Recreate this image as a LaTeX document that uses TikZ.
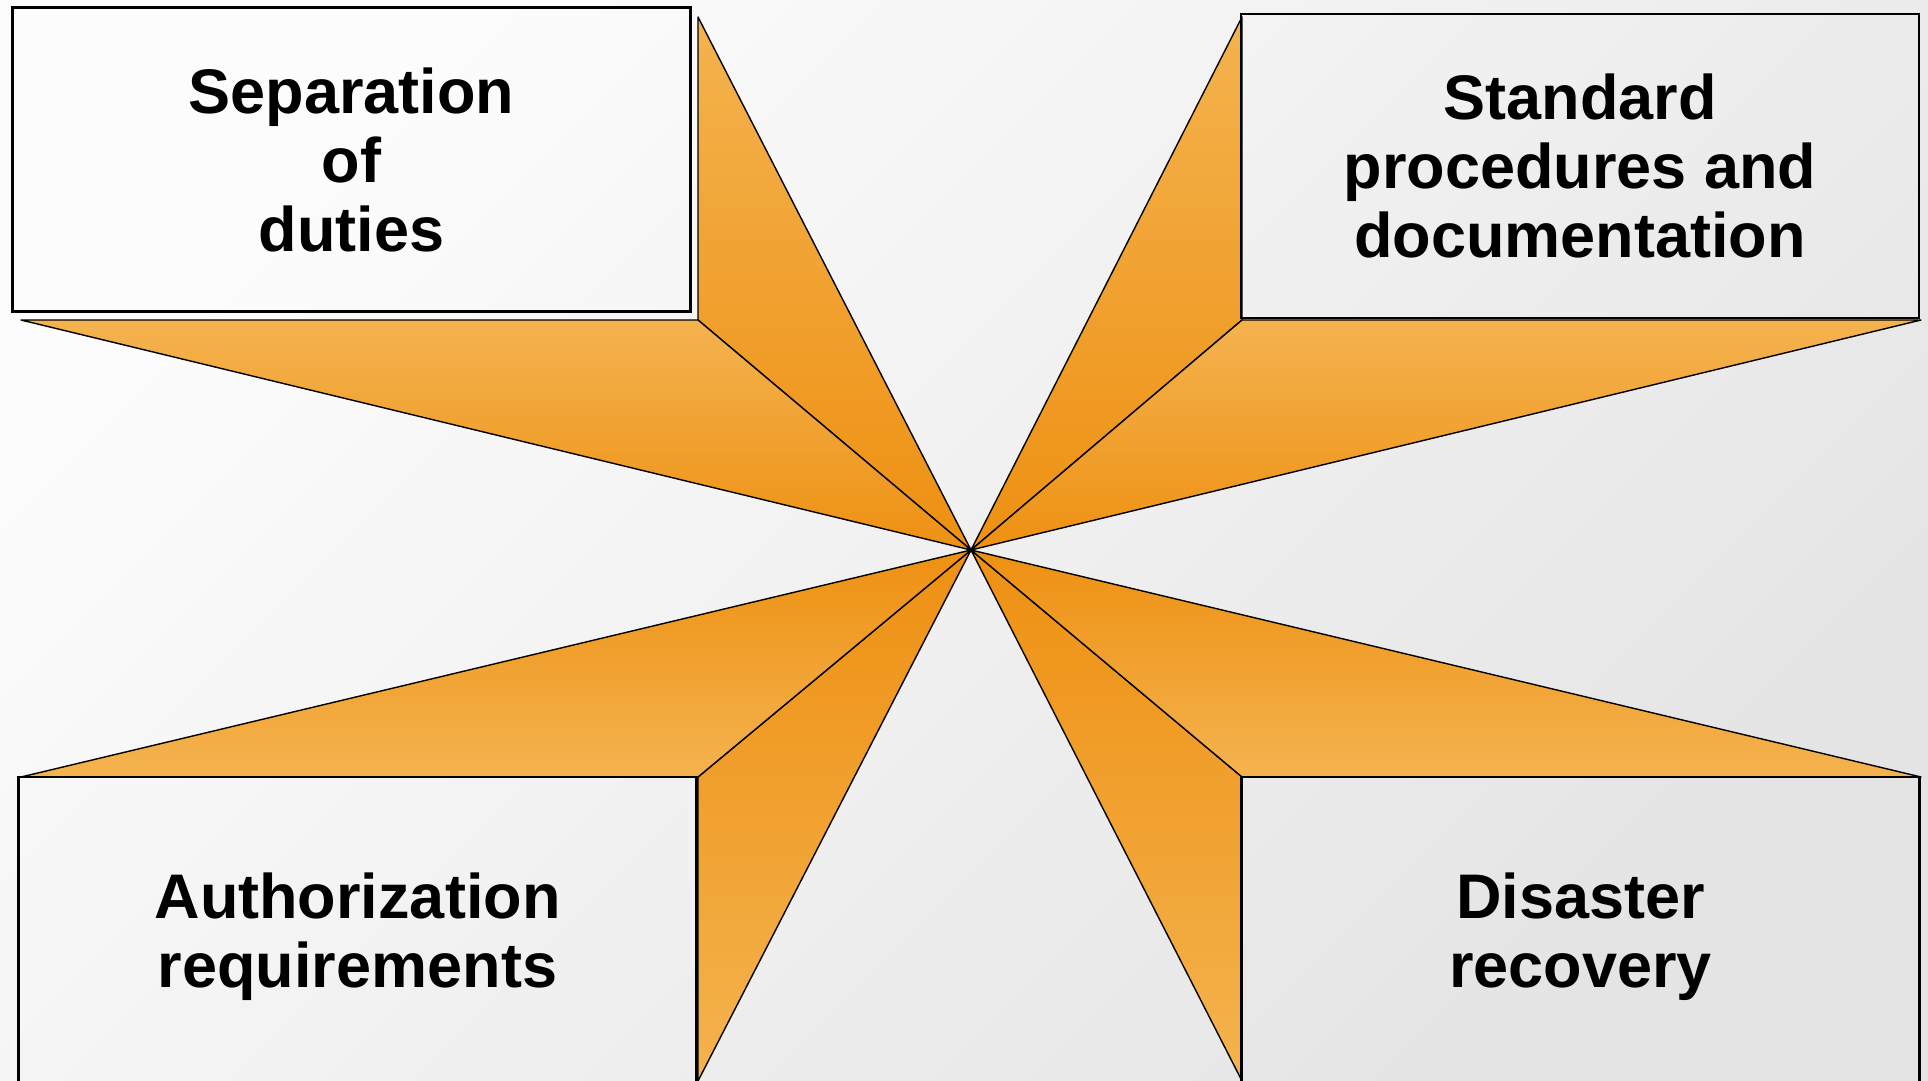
\documentclass[tikz,border=0pt]{standalone}
\usepackage{fontspec}
\setmainfont{Liberation Sans}
\definecolor{raylight}{HTML}{F4B34F}
\definecolor{raydark}{HTML}{EE9012}
\tikzset{
  card/.style={draw=black,line width=1.1pt,minimum width=339pt,minimum height=152pt,align=center,
    font=\fontsize{31.5}{34.5}\selectfont\bfseries},
  ray/.style={draw=black,line width=.7pt,line join=round},
  rayup/.style={ray,top color=raylight,bottom color=raydark},
  raydown/.style={ray,top color=raydark,bottom color=raylight},
}
\begin{document}
\begin{tikzpicture}[x=.5pt,y=-.5pt]
  \useasboundingbox (0,0) rectangle (1928,1081);
  \clip (0,0) rectangle (1928,1081);
  % diagonal fade, light corner top left (angle has to follow the colours)
  \shade[top color=white!99!black,bottom color=white!89.5!black,shading angle=45] (0,0) rectangle (1928,1081);
  % star points, all meeting in O
  \coordinate (O) at (971,550);
  \coordinate (tlA) at (698,17); \coordinate (tlB) at (698,320); \coordinate (tlC) at (21,320);
  \coordinate (trA) at (1242,17); \coordinate (trB) at (1242,320); \coordinate (trC) at (1921,320);
  \coordinate (blA) at (698,1081); \coordinate (blB) at (698,777); \coordinate (blC) at (21,777);
  \coordinate (brA) at (1242,1081); \coordinate (brB) at (1242,777); \coordinate (brC) at (1921,777);
  \draw[rayup] (tlA)--(tlB)--(O)--cycle; \draw[rayup] (tlC)--(tlB)--(O)--cycle;
  \draw[rayup] (trA)--(trB)--(O)--cycle; \draw[rayup] (trC)--(trB)--(O)--cycle;
  \draw[raydown] (blA)--(blB)--(O)--cycle; \draw[raydown] (blC)--(blB)--(O)--cycle;
  \draw[raydown] (brA)--(brB)--(O)--cycle; \draw[raydown] (brC)--(brB)--(O)--cycle;
  % the four cards
  \node[card] (sep) at (351.5,159.5) {Separation\\of\\duties};
  \node[card] (std) at (1580,166) {Standard\\procedures and\\documentation};
  \node[card,minimum height=160pt] (auth) at (357.5,937) {Authorization\\requirements};
  \node[card,minimum height=160pt] (dis) at (1580.5,937) {Disaster\\recovery};
\end{tikzpicture}
\end{document}
